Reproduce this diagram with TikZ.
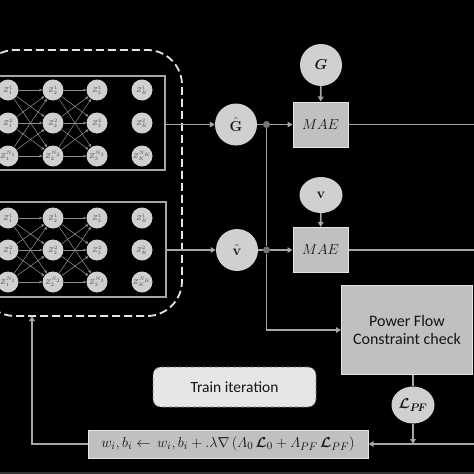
\documentclass[tikz,border=0pt]{standalone}
\usepackage{amsmath,amssymb,bm}
\usepackage[no-math]{fontspec}
\setmainfont{Carlito}
\usetikzlibrary{arrows.meta,shapes.geometric}
\definecolor{linegray}{HTML}{A6A6A6}
\definecolor{circfill}{HTML}{D0D0D0}
\definecolor{boxfill}{HTML}{C0C0C0}
\definecolor{boxedge}{HTML}{E4E4E4}
\definecolor{txt}{HTML}{141414}
\definecolor{nntxt}{HTML}{4A4A4A}
\definecolor{trainfill}{HTML}{E6E6E6}
\tikzset{
  conn/.style={draw=linegray, line width=1.6pt},
  arr/.style={conn, -{Triangle[width=5.5pt,length=5pt]}},
  nnedge/.style={draw=linegray!85!black, line width=0.55pt, -{Triangle[width=2.8pt,length=2.8pt]}},
  nn/.style={circle, fill=circfill, minimum size=21pt, inner sep=0pt, text=nntxt, font=\fontsize{7}{8}\selectfont},
  nnbox/.style={draw=linegray, line width=1.2pt},
  bigcirc/.style={circle, fill=circfill, minimum size=42pt, inner sep=0pt, text=txt, font=\fontsize{15}{17}\selectfont},
  ell/.style={ellipse, fill=circfill, minimum width=43pt, minimum height=36pt, inner sep=0pt, text=txt, font=\fontsize{15}{17}\selectfont},
  maebox/.style={rectangle, fill=boxfill, draw=boxedge, line width=1pt, minimum width=55pt, minimum height=45pt, text=txt, font=\fontsize{15}{17}\selectfont},
  junc/.style={circle, fill=linegray!70!black, minimum size=7pt, inner sep=0pt},
}
\begin{document}
\begin{tikzpicture}[x=1pt,y=-1pt]
\fill[black] (0,0) rectangle (474,474);
\useasboundingbox (0,0) rectangle (474,474);
\fill[black!80] (0,471.5) rectangle (474,474);

% dashed frame
\draw[draw=boxedge, line width=1.8pt, dash pattern=on 8pt off 4pt, rounded corners=35pt] (-20,50) rectangle (182,316);

% NN boxes
\draw[nnbox] (-10,76) rectangle (165,170);
\draw[nnbox] (-10,202) rectangle (166,297);
\coordinate (topout) at (165,124.5);
\coordinate (botout) at (166,250);

\foreach \c/\x/\s in {1/8/1,2/53/2,3/97/3,4/142/K}{
  \node[nn] (a\c1) at (\x,90) {$Z_{\s}^{1}$};
  \node[nn] (a\c2) at (\x,123) {$Z_{\s}^{2}$};
  \node[nn] (a\c3) at (\x,156) {$Z_{\s}^{N_{\s}}$};
  \node[nn] (b\c1) at (\x,218) {$Z_{\s}^{1}$};
  \node[nn] (b\c2) at (\x,250) {$Z_{\s}^{2}$};
  \node[nn] (b\c3) at (\x,282) {$Z_{\s}^{N_{\s}}$};
}
\foreach \i in {1,2,3}{
  \foreach \j in {1,2,3}{
    \draw[nnedge] (a1\i) -- (a2\j);
    \draw[nnedge] (a2\i) -- (a3\j);
    \draw[nnedge] (b1\i) -- (b2\j);
    \draw[nnedge] (b2\i) -- (b3\j);
  }
}

% outputs
\node[bigcirc] (Ghat) at (236,124.5) {$\hat{\mathbf{G}}$};
\node[bigcirc] (vhat) at (237,250) {$\hat{\mathbf{v}}$};
\node[bigcirc] (G) at (321,65) {$\bm{G}$};
\node[ell] (v) at (321,195) {$\mathbf{v}$};
\node[maebox] (mae1) at (320.5,124.5) {$MAE$};
\node[maebox] (mae2) at (320.5,250) {$MAE$};
\node[junc] (jG) at (266.5,124.5) {};
\node[junc] (jV) at (266.5,250) {};

\draw[arr] (topout) -- (Ghat);
\draw[arr] (botout) -- (vhat);
\draw[conn] (Ghat) -- (jG);
\draw[conn] (vhat) -- (jV);
\draw[arr] (jG) -- (mae1);
\draw[arr] (jV) -- (mae2);
\draw[arr] (G) -- (mae1);
\draw[arr] (v) -- (mae2);

\coordinate (r1) at (474,124.5);
\coordinate (r2) at (474,250);
\draw[conn] (mae1) -- (r1);
\draw[conn] (mae2) -- (r2);

% Power flow box
\node[rectangle, fill=boxfill, draw=boxedge, line width=1pt, minimum width=131pt, minimum height=89pt, anchor=north west, text=txt, align=center, font=\fontsize{16}{18.5}\selectfont] (pf) at (341,285) {Power Flow\\Constraint check};
\coordinate (corner) at (266.5,330);
\draw[conn] (jG) -- (jV);
\draw[arr] (jV) -- (corner) -- (pf.west |- corner);

% L_PF
\node[ell, minimum height=37pt] (lpf) at (413,405) {$\bm{\mathcal{L}}_{\bm{P\!F}}$};
\draw[conn] (pf.south -| lpf) -- (lpf);

% update box
\node[rectangle, fill=boxfill, draw=boxedge, line width=1pt, minimum width=280pt, minimum height=28pt, inner sep=0pt, text=txt, font=\fontsize{15}{17}\selectfont] (upd) at (228,444) {$w_i, b_i \leftarrow\, w_i, b_i + .\lambda\nabla\,(\varLambda_0\,\bm{\mathcal{L}}_0 + \varLambda_{PF}\,\bm{\mathcal{L}}_{PF})$};
\coordinate (r3) at (474,444);
\coordinate (m3) at (413,444);
\draw[arr] (r3) -- (upd);
\draw[arr] (lpf) -- (m3);
\coordinate (l1) at (32,444);
\coordinate (l2) at (32,316);
\draw[arr] (upd) -- (l1) -- (l2);

% train iteration
\node[rectangle, rounded corners=8pt, fill=trainfill, draw=black!55, dashed, line width=0.8pt, minimum width=163pt, minimum height=40pt, text=txt, font=\fontsize{15.5}{18}\selectfont] (train) at (234.5,387) {Train iteration};
\end{tikzpicture}
\end{document}
